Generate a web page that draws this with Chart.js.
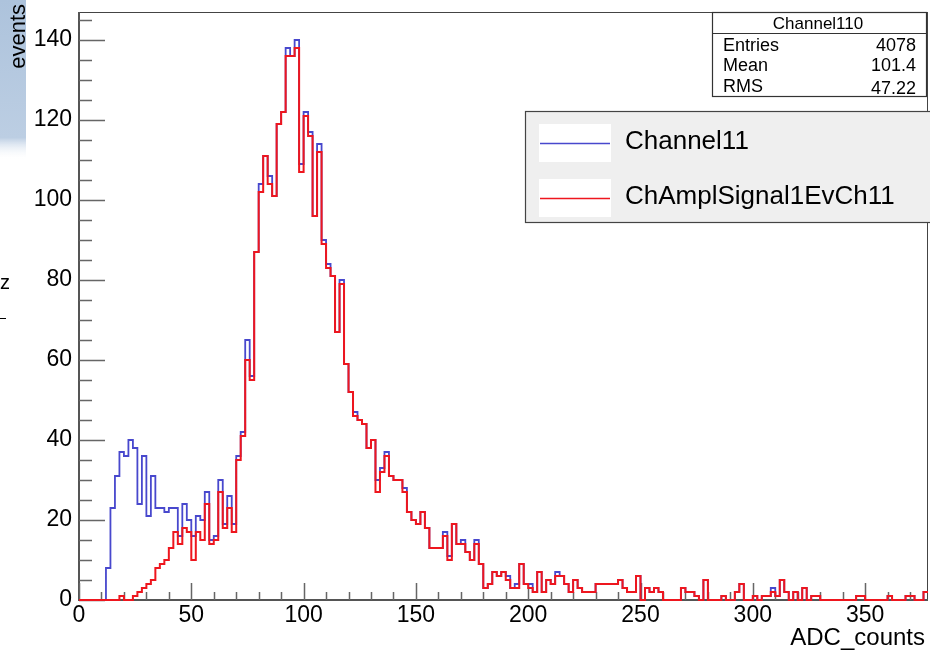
<!DOCTYPE html>
<html>
<head>
<meta charset="utf-8">
<script src="https://cdn.jsdelivr.net/npm/chart.js@4.4.1/dist/chart.umd.min.js"></script>
<style>
  html, body { margin: 0; padding: 0; background: #fff; }
  canvas { display: block; }
</style>
</head>
<body>
<canvas id="histo" width="930" height="652"></canvas>
<script>
// histogram bins, width 2 ADC counts, starting at 0
const binWidth = 2;
const xMax = 378;
const yMax = 147;

const channel11 = [
  0, 0, 0, 0, 0, 0, 8, 23, 31, 37,
  36, 40, 38, 24, 36, 21, 31, 23, 23, 22,
  23, 23, 16, 24, 20, 16, 21, 20, 27, 15,
  16, 30, 19, 26, 19, 36, 42, 65, 56, 87,
  104, 111, 106, 101, 119, 122, 138, 136, 140, 109,
  122, 117, 96, 114, 90, 84, 81, 67, 80, 59,
  52, 47, 45, 44, 38, 40, 30, 33, 37, 31,
  30, 30, 28, 22, 20, 19, 22, 18, 13, 13,
  13, 17, 11, 19, 14, 15, 12, 10, 15, 9,
  3, 4, 7, 6, 7, 6, 3, 4, 9, 4,
  4, 2, 7, 2, 5, 4, 7, 6, 4, 2,
  5, 3, 2, 2, 2, 4, 4, 4, 4, 4,
  5, 3, 2, 2, 6, 0, 3, 2, 3, 2,
  0, 0, 0, 0, 3, 2, 2, 1, 0, 5,
  0, 0, 0, 1, 0, 0, 2, 4, 0, 0,
  1, 0, 1, 1, 3, 1, 5, 2, 0, 2,
  0, 3, 0, 1, 1, 0, 0, 0, 0, 0,
  0, 0, 0, 1, 1, 0, 0, 0, 0, 0,
  1, 0, 0, 0, 1, 1, 0, 0, 2
];

const chAmplSignal = [
  0, 0, 0, 0, 0, 0, 0, 0, 0, 1,
  0, 0, 1, 2, 3, 4, 5, 8, 9, 10,
  13, 17, 14, 18, 17, 10, 17, 15, 24, 14,
  15, 27, 18, 23, 17, 35, 41, 60, 55, 87,
  102, 111, 104, 101, 119, 122, 136, 136, 138, 107,
  121, 116, 96, 112, 89, 83, 81, 67, 79, 59,
  52, 46, 45, 44, 38, 40, 27, 32, 36, 31,
  30, 30, 27, 22, 20, 19, 22, 18, 13, 13,
  13, 16, 10, 19, 14, 14, 12, 10, 14, 9,
  3, 4, 7, 6, 7, 5, 3, 3, 9, 4,
  3, 2, 7, 2, 5, 4, 6, 6, 4, 2,
  5, 3, 2, 2, 2, 4, 4, 4, 4, 4,
  5, 3, 2, 2, 6, 0, 3, 2, 3, 2,
  0, 0, 0, 0, 3, 2, 2, 1, 0, 5,
  0, 0, 0, 1, 0, 0, 2, 4, 0, 0,
  1, 0, 1, 1, 2, 1, 5, 2, 0, 2,
  0, 3, 0, 1, 1, 0, 0, 0, 0, 0,
  0, 0, 0, 1, 1, 0, 0, 0, 0, 0,
  1, 0, 0, 0, 1, 1, 0, 0, 2
];

const xTicks = [0, 50, 100, 150, 200, 250, 300, 350];
const yTicks = [0, 20, 40, 60, 80, 100, 120, 140];
const legendLabels = ["Channel11", "ChAmplSignal1EvCh11"];
const statsTitle = "Channel110";
const statsNames = ["Entries", "Mean", "RMS"];
const statsValues = ["4078", "101.4", "47.22"];

const blue = "rgb(72, 72, 205)";
const red = "rgb(238, 22, 30)";
const font = "'Liberation Sans', Arial, sans-serif";

// left bin edges + closing point so the 'before' step covers each bin
function toSteps(counts) {
  let pts = counts.map((c, i) => ({ x: i * binWidth, y: c }));
  pts.push({ x: counts.length * binWidth, y: counts[counts.length - 1] });
  return pts;
}

const rootLook = {
  id: "rootLook",
  beforeDraw(chart) {
    let ctx = chart.ctx;
    ctx.save();
    // leftover pale blue patch in the corner
    let g = ctx.createLinearGradient(0, 0, 0, 160);
    g.addColorStop(0, "#adc3dc");
    g.addColorStop(0.86, "#bccee3");
    g.addColorStop(1, "rgba(255,255,255,0)");
    ctx.fillStyle = g;
    ctx.fillRect(0, 0, 26, 160);
    ctx.restore();
  },
  beforeDatasetsDraw(chart) {
    let ctx = chart.ctx;
    let a = chart.chartArea;
    let xs = chart.scales.x;
    let ys = chart.scales.y;
    ctx.save();
    // frame
    ctx.strokeStyle = "#444";
    ctx.lineWidth = 1;
    ctx.strokeRect(a.left + 0.5, a.top + 0.5, a.right - a.left - 1, a.bottom - a.top);
    ctx.strokeStyle = "#555";
    ctx.lineWidth = 2;
    ctx.beginPath();
    ctx.moveTo(a.left, a.top);
    ctx.lineTo(a.left, a.bottom);
    ctx.lineTo(a.right, a.bottom);
    ctx.stroke();

    // inward ticks
    ctx.lineWidth = 1.5;
    ctx.strokeStyle = "#666";
    ctx.beginPath();
    for (let v = 0; v <= xMax; v += 10) {
      let px = Math.round(xs.getPixelForValue(v)) + 0.5;
      let len = v % 50 === 0 ? 17 : 8;
      ctx.moveTo(px, a.bottom);
      ctx.lineTo(px, a.bottom - len);
    }
    for (let v = 0; v <= yMax; v += 5) {
      let py = Math.round(ys.getPixelForValue(v)) + 0.5;
      let len = v % 20 === 0 ? 26 : 13;
      ctx.moveTo(a.left, py);
      ctx.lineTo(a.left + len, py);
    }
    ctx.stroke();
    ctx.restore();
  },
  afterDraw(chart) {
    let ctx = chart.ctx;
    ctx.save();

    // axis titles
    ctx.fillStyle = "#000";
    ctx.font = "24px " + font;
    ctx.textAlign = "right";
    ctx.textBaseline = "alphabetic";
    ctx.fillText("ADC_counts", 925, 645);
    ctx.save();
    ctx.font = "22px " + font;
    ctx.translate(19, 4);
    ctx.rotate(-Math.PI / 2);
    ctx.textBaseline = "middle";
    ctx.fillText("events", 0, 0);
    ctx.restore();

    // stray bits on the left edge
    ctx.font = "20px " + font;
    ctx.textAlign = "left";
    ctx.textBaseline = "middle";
    ctx.fillText("z", 0, 283);
    ctx.strokeStyle = "#000";
    ctx.lineWidth = 1;
    ctx.beginPath();
    ctx.moveTo(0, 318.5);
    ctx.lineTo(6, 318.5);
    ctx.stroke();

    // stats box
    ctx.fillStyle = "#fff";
    ctx.fillRect(712, 12, 215, 85);
    ctx.strokeStyle = "#333";
    ctx.lineWidth = 1.2;
    ctx.strokeRect(712.5, 12.5, 214, 84);
    ctx.beginPath();
    ctx.moveTo(712, 33.5);
    ctx.lineTo(927, 33.5);
    ctx.stroke();
    ctx.fillStyle = "#000";
    ctx.font = "17px " + font;
    ctx.textAlign = "center";
    ctx.fillText(statsTitle, 818, 24);
    ctx.font = "18px " + font;
    let rowY = [46, 66, 87];
    for (let i = 0; i < statsNames.length; i++) {
      ctx.textAlign = "left";
      ctx.fillText(statsNames[i], 723, rowY[i]);
      ctx.textAlign = "right";
      ctx.fillText(statsValues[i], 916, rowY[i] + (i === 2 ? 2 : 0));
    }

    // legend box
    ctx.fillStyle = "#efefef";
    ctx.fillRect(525, 111, 405, 112);
    ctx.strokeStyle = "#444";
    ctx.lineWidth = 1.2;
    ctx.strokeRect(525.5, 111.5, 410, 111);
    let legY = [143, 198];
    let legCol = [blue, red];
    for (let i = 0; i < legendLabels.length; i++) {
      ctx.fillStyle = "#fff";
      ctx.fillRect(539, legY[i] - 19, 72, 38);
      ctx.strokeStyle = legCol[i];
      ctx.lineWidth = 1.3;
      ctx.beginPath();
      ctx.moveTo(540, legY[i] + 0.5);
      ctx.lineTo(610, legY[i] + 0.5);
      ctx.stroke();
      ctx.fillStyle = "#000";
      ctx.font = "26px " + font;
      ctx.textAlign = "left";
      ctx.textBaseline = "middle";
      ctx.fillText(legendLabels[i], 625, legY[i] - 1);
    }
    ctx.restore();
  }
};

new Chart(document.getElementById("histo"), {
  type: "line",
  data: {
    datasets: [
      {
        label: legendLabels[0],
        data: toSteps(channel11),
        stepped: "before",
        borderColor: blue,
        borderWidth: 1.8,
        pointRadius: 0,
        fill: false,
        clip: false,
        order: 2,
      },
      {
        label: legendLabels[1],
        data: toSteps(chAmplSignal),
        stepped: "before",
        borderColor: red,
        borderWidth: 2,
        pointRadius: 0,
        fill: false,
        clip: false,
        order: 1,
      },
    ],
  },
  options: {
    responsive: false,
    animation: false,
    layout: { padding: { top: 12, right: 2, left: 0, bottom: 0 } },
    plugins: {
      legend: { display: false },
      tooltip: { enabled: false },
    },
    scales: {
      x: {
        type: "linear",
        min: 0,
        max: xMax,
        afterBuildTicks: (s) => { s.ticks = xTicks.map((v) => ({ value: v })); },
        afterFit: (s) => {
          s.height = 52;
          s.paddingLeft = 0;
          s.paddingRight = 0;
        },
        grid: { display: false, drawTicks: false },
        border: { display: false },
        ticks: {
          color: "#000",
          padding: 2,
          maxRotation: 0,
          font: { family: font, size: 23 },
        },
      },
      y: {
        type: "linear",
        min: 0,
        max: yMax,
        afterBuildTicks: (s) => { s.ticks = yTicks.map((v) => ({ value: v })); },
        afterFit: (s) => {
          s.width = 79;
          s.paddingTop = 0;
          s.paddingBottom = 0;
        },
        grid: { display: false, drawTicks: false },
        border: { display: false },
        ticks: {
          color: "#000",
          padding: 7,
          font: { family: font, size: 23 },
        },
      },
    },
  },
  plugins: [rootLook],
});
</script>
</body>
</html>
